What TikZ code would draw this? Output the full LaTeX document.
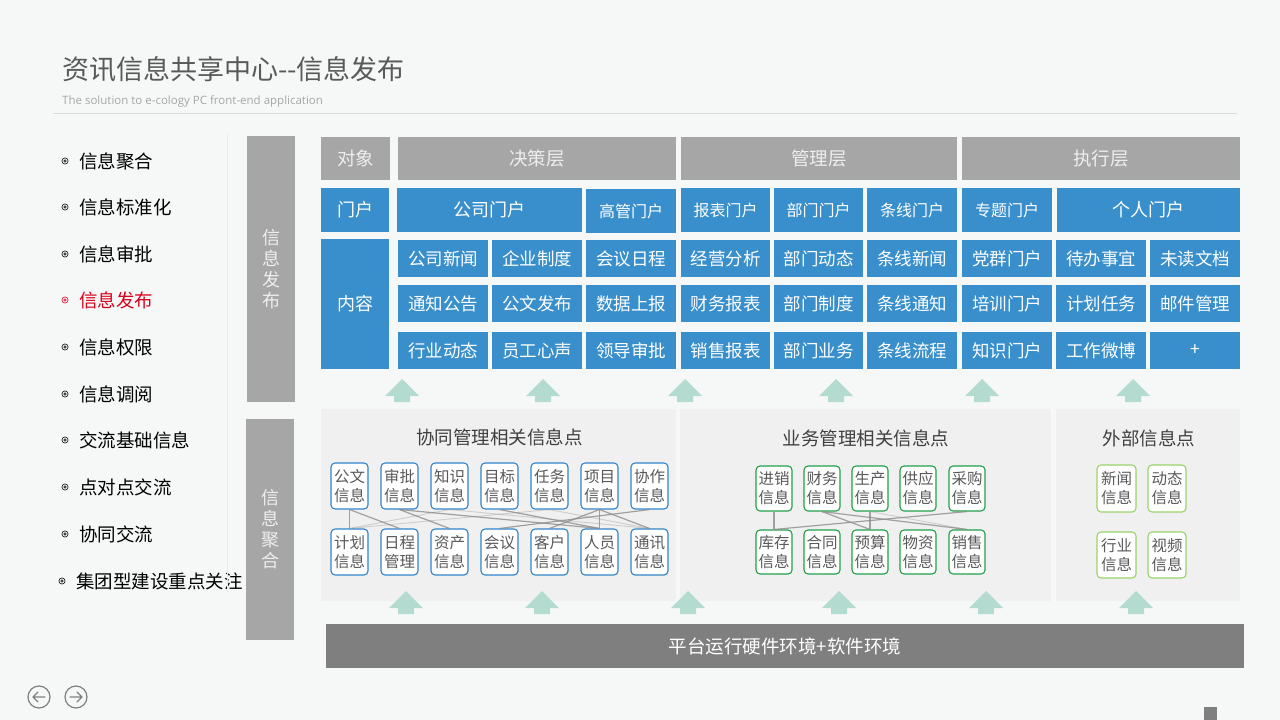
\documentclass[tikz,border=0pt]{standalone}
\usepackage{fontspec}
\setmainfont{Noto Sans CJK SC}
\newfontfamily\subfont{Open Sans}
\usepackage{tikz}
\usetikzlibrary{positioning,calc}

\definecolor{pagebg}{HTML}{F6F8F8}
\definecolor{headgray}{HTML}{A6A6A6}
\definecolor{headtext}{HTML}{EEEEEE}
\definecolor{portalblue}{HTML}{388FCC}
\definecolor{panelgray}{HTML}{F0F0F0}
\definecolor{arrowmint}{HTML}{B4DBD0}
\definecolor{bargray}{HTML}{7F7F7F}
\definecolor{titlegray}{HTML}{595959}
\definecolor{paneltext}{HTML}{404040}
\definecolor{menured}{HTML}{D9001B}
\definecolor{xtblue}{HTML}{2F84CB}
\definecolor{ywgreen}{HTML}{22A04B}
\definecolor{wbgreen}{HTML}{9BD36A}
\definecolor{linkgray}{HTML}{8C8C8C}

\newcommand{\fsz}[1]{\fontsize{#1}{#1}\selectfont}

\begin{document}
\begin{tikzpicture}[x=1pt,y=-1pt,
    headbox/.style={fill=headgray, text=headtext, inner sep=0pt, minimum height=43pt, font=\fsz{18.5}},
    bluebox/.style={fill=portalblue, text=white, inner sep=0pt},
    cell/.style={bluebox, minimum width=89.5pt, minimum height=37pt, font=\fsz{17.5}},
    sidebox/.style={fill=headgray, text=headtext, inner sep=0pt, minimum width=48pt, align=center,
        font=\fontsize{18}{21}\selectfont},
    panel/.style={fill=panelgray, inner sep=0pt},
    paneltitle/.style={text=paneltext, font=\fsz{18.5}},
    infobox/.style={draw=#1, fill=white, rounded corners=4pt, line width=1.1pt, inner sep=0pt,
        minimum width=37pt, minimum height=46pt, align=center, text=titlegray,
        font=\fontsize{15.5}{19}\selectfont},
    linkdark/.style={linkgray, line width=1.2pt, opacity=0.8},
    linklight/.style={linkgray, line width=0.9pt, opacity=0.35},
    menuitem/.style={anchor=west, inner sep=0pt, font=\fsz{18.5}}
]
    % page
    \fill[pagebg] (0,0) rectangle (1280,720);
    \useasboundingbox (0,0) rectangle (1280,720);

    % title
    \node[anchor=base west, inner sep=0pt, text=titlegray, font=\fsz{27}] (title) at (62,79) {资讯信息共享中心-{}-信息发布};
    \node[anchor=base west, inner sep=0pt, text=headgray, font=\subfont\fsz{11.5}] (subtitle) at (62,104) {The solution to e-cology PC front-end application};
    \draw[black!15, line width=0.8pt] (53,113) -- (1237,113);

    % left menu
    \foreach \yy/\txt/\col [count=\i] in {161/信息聚合/black, 207/信息标准化/black, 254/信息审批/black,
        300/信息发布/menured, 347/信息权限/black, 394/信息调阅/black, 440/交流基础信息/black,
        487/点对点交流/black, 534/协同交流/black} {
        \draw[\col, line width=0.6pt] (65,\yy) circle (3.1pt) (65,\yy) circle (1.2pt);
        \node[menuitem, text=\col] (menu\i) at (79,\yy) {\txt};
    }
    \draw[black, line width=0.6pt] (62,581) circle (3.1pt) (62,581) circle (1.2pt);
    \node[menuitem] (menu10) at (76,581) {集团型建设重点关注};
    \draw[black!8, line width=1pt] (227,134) -- (227,593);

    % side labels
    \node[sidebox, minimum height=266pt] (pubside) at (271,269) {信\\息\\发\\布};
    \node[sidebox, minimum height=221pt] (aggside) at (270,529.5) {信\\息\\聚\\合};

    % header row
    \node[headbox, minimum width=69pt] (hobj) at (355.5,158.5) {对象};
    \node[headbox, minimum width=278pt] (hjc) at (537,158.5) {决策层};
    \node[headbox, minimum width=276pt] (hgl) at (819,158.5) {管理层};
    \node[headbox, minimum width=278pt] (hzx) at (1101,158.5) {执行层};

    % portal row
    \node[bluebox, minimum width=68pt, minimum height=44pt, font=\fsz{18}] (pmh) at (355,210) {门户};
    \node[bluebox, minimum width=185pt, minimum height=44pt, font=\fsz{18}] (pgs) at (489.5,210) {公司门户};
    \node[bluebox, minimum width=90pt, minimum height=44pt, font=\fsz{16}] (pgg) at (631,211) {高管门户};
    \foreach \cx/\txt/\nm in {725.5/报表门户/pbb, 818.5/部门门户/pbm, 912/条线门户/ptx, 1007/专题门户/pzt} {
        \node[bluebox, minimum width=89.5pt, minimum height=44pt, font=\fsz{16}] (\nm) at (\cx,210) {\txt};
    }
    \node[bluebox, minimum width=183pt, minimum height=44pt, font=\fsz{18}] (pgr) at (1148.5,210) {个人门户};

    % content rows
    \node[bluebox, minimum width=68pt, minimum height=130pt, font=\fsz{18}] (cnr) at (355,304) {内容};
    \foreach \cx/\txt [count=\c] in {443/公司新闻, 537/企业制度, 631/会议日程, 725.5/经营分析, 818.5/部门动态,
        912/条线新闻, 1007/党群门户, 1101/待办事宜, 1195/未读文档} {
        \node[cell] (ra\c) at (\cx,258.5) {\txt};
    }
    \foreach \cx/\txt [count=\c] in {443/通知公告, 537/公文发布, 631/数据上报, 725.5/财务报表, 818.5/部门制度,
        912/条线通知, 1007/培训门户, 1101/计划任务, 1195/邮件管理} {
        \node[cell] (rb\c) at (\cx,303.5) {\txt};
    }
    \foreach \cx/\txt [count=\c] in {443/行业动态, 537/员工心声, 631/领导审批, 725.5/销售报表, 818.5/部门业务,
        912/条线流程, 1007/知识门户, 1101/工作微博, 1195/+} {
        \node[cell] (rc\c) at (\cx,350.5) {\txt};
    }

    % arrows up to the grid
    \foreach \ax in {402,543,685,836,982,1133} {
        \fill[arrowmint] (\ax-17,396) -- (\ax,379) -- (\ax+17,396) -- (\ax+8,396) -- (\ax+8,402)
            -- (\ax-8,402) -- (\ax-8,396) -- cycle;
    }

    % panels
    \node[panel, minimum width=355pt, minimum height=192pt] (xtpanel) at (498.5,505) {};
    \node[panel, minimum width=371pt, minimum height=192pt] (ywpanel) at (865.5,505) {};
    \node[panel, minimum width=184pt, minimum height=192pt] (wbpanel) at (1148,505) {};
    \node[paneltitle] (xttitle) at (499.5,437) {协同管理相关信息点};
    \node[paneltitle] (ywtitle) at (866,438) {业务管理相关信息点};
    \node[paneltitle] (wbtitle) at (1149,438) {外部信息点};

    % collaboration info points
    \foreach \txt [count=\i] in {公文, 审批, 知识, 目标, 任务, 项目, 协作} {
        \node[infobox=xtblue] (xt\i) at (349.5+50*\i-50,486) {\txt\\信息};
    }
    \foreach \txt/\sub [count=\i] in {计划/信息, 日程/管理, 资产/信息, 会议/信息, 客户/信息, 人员/信息, 通讯/信息} {
        \node[infobox=xtblue] (xb\i) at (349.5+50*\i-50,552) {\txt\\\sub};
    }
    \foreach \a/\b in {1/1, 1/2, 2/3, 2/6, 4/6, 6/6, 6/5, 6/7, 7/4} {
        \draw[linkdark] (xt\a.south) -- (xb\b.north);
    }
    \foreach \a/\b in {3/1, 5/1, 3/7, 5/7} {
        \draw[linklight] (xt\a.south) -- (xb\b.north);
    }

    % business info points
    \foreach \cx/\txt [count=\i] in {774/进销, 822/财务, 870/生产, 918/供应, 967/采购} {
        \node[infobox=ywgreen, minimum width=36pt, minimum height=45pt] (yt\i) at (\cx,488.5) {\txt\\信息};
    }
    \foreach \cx/\txt [count=\i] in {774/库存, 822/合同, 870/预算, 918/物资, 967/销售} {
        \node[infobox=ywgreen, minimum width=36pt, minimum height=44pt] (yb\i) at (\cx,552) {\txt\\信息};
    }
    \foreach \a/\b in {1/1, 2/3, 2/5, 3/3, 5/1} {
        \draw[linkdark] (yt\a.south) -- (yb\b.north);
    }
    \draw[linklight] (yt3.south) -- (yb5.north);

    % external info points
    \node[infobox=wbgreen, minimum width=39pt, minimum height=47pt] (wxw) at (1116.5,488.5) {新闻\\信息};
    \node[infobox=wbgreen, minimum width=38pt, minimum height=47pt] (wdt) at (1167,488.5) {动态\\信息};
    \node[infobox=wbgreen, minimum width=39pt, minimum height=46pt] (whye) at (1116.5,555) {行业\\信息};
    \node[infobox=wbgreen, minimum width=38pt, minimum height=46pt] (wsp) at (1167,555) {视频\\信息};

    % arrows up from the platform
    \foreach \ax in {406,542,688,839,986,1136} {
        \fill[arrowmint] (\ax-17,608) -- (\ax,591) -- (\ax+17,608) -- (\ax+8,608) -- (\ax+8,614)
            -- (\ax-8,614) -- (\ax-8,608) -- cycle;
    }

    % platform bar
    \node[fill=bargray, text=white, inner sep=0pt, minimum width=918pt, minimum height=44pt,
        font=\fsz{18.5}] (platform) at (785,646) {平台运行硬件环境+软件环境};

    % navigation
    \node[circle, draw=bargray, line width=1.2pt, minimum size=22pt, inner sep=0pt] (prevbtn) at (39,697) {};
    \node[circle, draw=bargray, line width=1.2pt, minimum size=22pt, inner sep=0pt] (nextbtn) at (76,697) {};
    \draw[bargray, line width=1.2pt, line cap=round, line join=round]
        (prevbtn.center) ++(6,0) -- ++(-12,0) -- ++(5,-5) ++(-5,5) -- ++(5,5);
    \draw[bargray, line width=1.2pt, line cap=round, line join=round]
        (nextbtn.center) ++(-6,0) -- ++(12,0) -- ++(-5,-5) ++(5,5) -- ++(-5,5);
    \fill[bargray] (1204,707) rectangle (1217,720);
\end{tikzpicture}
\end{document}
